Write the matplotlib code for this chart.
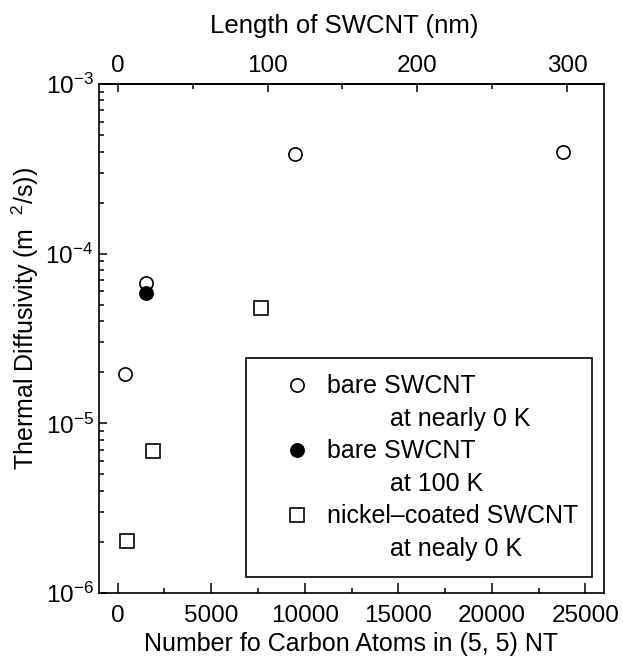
import matplotlib
matplotlib.use("Agg")
import matplotlib.pyplot as plt
from matplotlib.lines import Line2D
from matplotlib.ticker import MultipleLocator, LogLocator, NullFormatter

plt.rcParams['font.family'] = ['Liberation Sans', 'DejaVu Sans']
plt.rcParams['mathtext.fontset'] = 'custom'
plt.rcParams['mathtext.rm'] = 'Liberation Sans'
plt.rcParams['mathtext.it'] = 'Liberation Sans:italic'
plt.rcParams['mathtext.default'] = 'regular'

# ---- data ----
bare0_atoms = [400, 1500, 9500, 23800]
bare0_diff = [1.95e-5, 6.75e-5, 3.85e-4, 3.97e-4]

bare100_atoms = [1500]
bare100_diff = [5.85e-5]

nickel_atoms = [480, 1870, 7640]
nickel_diff = [2.03e-6, 6.9e-6, 4.8e-5]

ATOMS_PER_NM = 80.1
top_ticks = [0, 100, 200, 300]
bottom_ticks = [0, 5000, 10000, 15000, 20000, 25000]

legend_labels = ["bare SWCNT", "         at nearly 0 K",
                 "bare SWCNT", "         at 100 K",
                 "nickel\u2013coated SWCNT", "         at nealy 0 K"]

FS = 17.5

fig = plt.figure(figsize=(6.23, 6.56), dpi=100)
W, H = 623, 656
ax = fig.add_axes([99 / W, 1 - 593 / H, (604 - 99) / W, (593 - 84) / H])

ms = 9.5
ax.plot(bare0_atoms, bare0_diff, ls='none', marker='o', ms=ms, mfc='white',
        mec='black', mew=1.2, zorder=3)
ax.plot(bare100_atoms, bare100_diff, ls='none', marker='o', ms=ms, mfc='black',
        mec='black', mew=1.2, zorder=4)
ax.plot(nickel_atoms, nickel_diff, ls='none', marker='s', ms=ms, mfc='white',
        mec='black', mew=1.2, zorder=3)

ax.set_yscale('log')
ax.set_ylim(1e-6, 1e-3)
ax.set_xlim(-1000, 26000)
ax.set_xticks(bottom_ticks)
ax.xaxis.set_minor_locator(MultipleLocator(2500))
ax.yaxis.set_major_locator(LogLocator(base=10, numticks=10))
ax.yaxis.set_minor_locator(LogLocator(base=10, subs=range(2, 10), numticks=10))
ax.yaxis.set_minor_formatter(NullFormatter())

for sp in ax.spines.values():
    sp.set_linewidth(1.2)

ax.tick_params(axis='x', which='both', direction='in', top=False, bottom=True,
               labelsize=FS, pad=9, width=1.1)
ax.tick_params(axis='x', which='major', length=7)
ax.tick_params(axis='x', which='minor', length=3.5)
ax.tick_params(axis='y', which='both', direction='in', left=True, right=False,
               labelsize=FS, pad=4, width=1.1)
ax.tick_params(axis='y', which='major', length=6)
ax.tick_params(axis='y', which='minor', length=3.5)

ax.set_xlabel("Number fo Carbon Atoms in (5, 5) NT", fontsize=18, labelpad=3)
ax.set_ylabel("Thermal Diffusivity (m  $^{2}$/s))", fontsize=18, labelpad=3)
ax.yaxis.label.set_y(0.54)

sec = ax.secondary_xaxis('top', functions=(lambda x: x / ATOMS_PER_NM,
                                           lambda x: x * ATOMS_PER_NM))
sec.set_xticks(top_ticks)
sec.xaxis.set_minor_locator(MultipleLocator(50))
sec.tick_params(axis='x', which='both', direction='in', labelsize=FS, pad=5, width=1.1)
sec.tick_params(axis='x', which='major', length=6)
sec.tick_params(axis='x', which='minor', length=3.5)
sec.spines['top'].set_linewidth(1.2)
sec.set_xlabel("Length of SWCNT (nm)", fontsize=18.5, labelpad=16)
sec.xaxis.label.set_x(0.485)

handles = [
    Line2D([], [], ls='none', marker='o', ms=ms, mfc='white', mec='black', mew=1.2),
    Line2D([], [], ls='none', marker=''),
    Line2D([], [], ls='none', marker='o', ms=ms, mfc='black', mec='black', mew=1.2),
    Line2D([], [], ls='none', marker=''),
    Line2D([], [], ls='none', marker='s', ms=ms, mfc='white', mec='black', mew=1.2),
    Line2D([], [], ls='none', marker=''),
]
x0 = (246 - 99) / 505
x1 = (592 - 99) / 505
y0 = (593 - 577) / 509
leg = ax.legend(handles, legend_labels, loc='lower left',
                bbox_to_anchor=(x0, y0, x1 - x0, 0.4), mode='expand',
                borderaxespad=0, fontsize=18, frameon=True, fancybox=False,
                edgecolor='black', framealpha=1, borderpad=0.65,
                labelspacing=0.34, handlelength=2.8, handletextpad=-0.2)
leg.get_frame().set_linewidth(1.2)

fig.savefig("out.png", dpi=100)
